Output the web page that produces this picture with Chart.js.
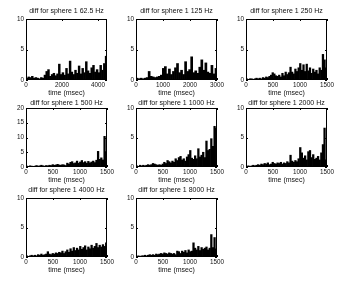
<!DOCTYPE html>
<html>
<head>
<meta charset="utf-8">
<script src="https://cdn.jsdelivr.net/npm/chart.js@4.4.1/dist/chart.umd.min.js"></script>
<style>
  html, body { margin: 0; padding: 0; background: #fff; }
  #wrap { position: relative; width: 337px; height: 281px; overflow: hidden; }
  #wrap canvas { position: absolute; }
</style>
</head>
<body>
<div id="wrap"></div>
<script>
// =====================
// DATA
// =====================
const titles = [
  "diff for sphere 1 62.5 Hz", "diff for sphere 1 125 Hz", "diff for sphere 1 250 Hz",
  "diff for sphere 1 500 Hz", "diff for sphere 1 1000 Hz", "diff for sphere 1 2000 Hz",
  "diff for sphere 1 4000 Hz", "diff for sphere 1 8000 Hz"
];

// bar centres (msec)
const times4500 = [50,150,250,350,450,550,650,750,850,950,1050,1150,1250,1350,1450,1550,1650,1750,1850,1950,
  2050,2150,2250,2350,2450,2550,2650,2750,2850,2950,3050,3150,3250,3350,3450,3550,3650,3750,3850,3950,
  4050,4150,4250,4350,4450];
const times3000 = [37.5,112.5,187.5,262.5,337.5,412.5,487.5,562.5,637.5,712.5,787.5,862.5,937.5,1012.5,
  1087.5,1162.5,1237.5,1312.5,1387.5,1462.5,1537.5,1612.5,1687.5,1762.5,1837.5,1912.5,1987.5,2062.5,
  2137.5,2212.5,2287.5,2362.5,2437.5,2512.5,2587.5,2662.5,2737.5,2812.5,2887.5,2962.5];
const times1500 = [15,45,75,105,135,165,195,225,255,285,315,345,375,405,435,465,495,525,555,585,
  615,645,675,705,735,765,795,825,855,885,915,945,975,1005,1035,1065,1095,1125,1155,1185,
  1215,1245,1275,1305,1335,1365,1395,1425,1455,1485];

const diff62 = [0.3,0.5,0.4,0.6,0.3,0.4,0.3,0.2,0.4,0.3, 0.8,1.4,1.7,0.6,0.9,1.1,0.7,1.0,2.6,0.9,
  1.2,0.8,1.9,1.0,3.1,1.3,0.9,1.6,1.1,2.3, 1.0,1.9,1.2,3.0,1.5,1.1,2.0,2.4,1.3,1.7, 1.2,2.4,1.6,2.7,3.9];
const diff125 = [0.3,0.2,0.3,0.2,0.3,0.4,1.4,0.6,0.5,0.4, 0.5,0.6,0.8,1.9,2.2,1.0,1.8,0.9,1.4,2.0,
  2.7,1.2,1.6,0.9,3.0,1.4,1.7,3.8,1.2,1.5, 1.1,2.1,3.3,1.6,2.8,1.3,1.1,2.4,1.0,1.9];
const diff250 = [0.2,0.1,0.2,0.2,0.1,0.2,0.3,0.2,0.3,0.2, 0.4,0.3,0.5,0.4,0.6,0.8,1.2,1.0,0.7,0.6,
  0.8,0.5,1.1,0.7,1.3,0.9,1.2,2.1,1.3,1.0, 1.8,1.4,2.0,2.7,1.6,2.5,1.4,2.6,1.5,2.0,
  1.1,1.8,1.3,1.6,1.0,2.0,1.6,4.2,3.3,2.0];
const diff500 = [0.3,0.2,0.4,0.3,0.2,0.3,0.5,0.3,0.4,0.6, 0.4,0.3,0.5,0.4,0.6,0.5,0.8,0.6,0.7,0.9,
  0.7,0.6,0.8,0.7,0.5,1.3,1.0,1.6,1.8,1.2, 1.4,2.0,1.3,1.7,2.2,1.5,1.8,1.3,1.9,1.4,
  1.7,2.0,1.5,2.3,5.3,2.6,3.1,2.4,10.4,5.2];
const diff1000 = [0.2,0.1,0.3,0.2,0.3,0.2,0.3,0.4,0.3,0.4, 0.6,0.5,0.4,0.3,0.4,0.3,0.5,0.8,0.6,1.1,
  0.9,0.7,1.0,0.8,1.4,1.1,1.6,1.8,1.2,1.4, 1.0,1.7,2.1,2.8,1.5,1.3,1.9,1.4,3.1,1.7,
  2.0,2.5,1.6,4.4,2.8,3.0,4.8,3.5,6.9,6.6];
const diff2000 = [0.1,0.2,0.1,0.2,0.3,0.2,0.3,0.4,0.3,0.5, 0.4,0.6,0.5,0.7,0.4,0.5,0.8,0.6,0.5,0.7,
  0.6,0.8,0.5,0.7,0.6,0.9,0.7,2.0,1.0,0.8, 1.1,0.9,1.4,3.3,2.4,1.5,1.9,1.2,2.6,2.8,
  1.6,2.1,1.3,1.5,1.8,1.2,2.4,3.8,6.6,1.2];
const diff4000 = [0.2,0.1,0.2,0.3,0.2,0.3,0.2,0.4,0.3,0.5, 0.3,0.4,0.5,0.9,0.5,0.4,0.6,0.5,0.7,0.6,
  0.8,0.7,1.0,0.6,0.9,1.2,0.8,1.4,1.0,1.6, 1.1,1.5,1.2,1.8,1.3,1.6,1.9,1.2,1.7,1.4,
  2.0,1.5,1.8,2.3,1.6,2.0,1.7,2.1,1.8,2.4];
const diff8000 = [0.1,0.2,0.1,0.2,0.2,0.3,0.2,0.3,0.4,0.3, 0.4,0.3,0.5,0.4,0.5,0.6,0.5,0.7,0.6,0.5,
  0.7,0.6,0.5,0.6,0.4,1.0,0.9,0.6,1.0,0.8, 1.1,0.7,1.2,0.9,1.0,2.4,1.5,1.2,1.8,1.1,
  1.6,1.3,1.5,1.7,1.2,1.5,3.8,1.6,3.3,1.4];

const ticks4500 = [0, 2000, 4000];
const ticks3000 = [0, 1000, 2000, 3000];
const ticks1500 = [0, 500, 1000, 1500];
const ticks10 = [0, 5, 10];
const ticks20 = [0, 5, 10, 15, 20];

const panels = [
  { t: times4500, v: diff62,   xMax: 4500, xTicks: ticks4500, yMax: 10, yTicks: ticks10 },
  { t: times3000, v: diff125,  xMax: 3000, xTicks: ticks3000, yMax: 10, yTicks: ticks10 },
  { t: times1500, v: diff250,  xMax: 1500, xTicks: ticks1500, yMax: 10, yTicks: ticks10 },
  { t: times1500, v: diff500,  xMax: 1500, xTicks: ticks1500, yMax: 20, yTicks: ticks20 },
  { t: times1500, v: diff1000, xMax: 1500, xTicks: ticks1500, yMax: 10, yTicks: ticks10 },
  { t: times1500, v: diff2000, xMax: 1500, xTicks: ticks1500, yMax: 10, yTicks: ticks10 },
  { t: times1500, v: diff4000, xMax: 1500, xTicks: ticks1500, yMax: 10, yTicks: ticks10 },
  { t: times1500, v: diff8000, xMax: 1500, xTicks: ticks1500, yMax: 10, yTicks: ticks10 }
];

// =====================
// LAYOUT
// =====================
const colLeft = [26, 136, 246];
const rowTop = [19, 108, 198];
const rowHeight = [61, 59, 59];
const titleGap = [8, 5, 8];
const AXIS_W = 26, PLOT_W = 81, PAD_R = 10, PAD_T = 19, XAXIS_H = 17;
const TICK_FONT = { family: "'Liberation Sans', Arial, sans-serif", size: 6.3, lineHeight: 1 };
const LABEL_FONT = { family: "'Liberation Sans', Arial, sans-serif", size: 7, lineHeight: 1 };
const INK = "#111";

// box round the axes, inward ticks, title over the axes
const framePlugin = {
  id: "frame",
  afterDatasetsDraw(chart, args, opts) {
    const { ctx, chartArea: a, scales: { x, y } } = chart;
    ctx.save();
    ctx.strokeStyle = "#000";
    ctx.lineWidth = 1;
    ctx.strokeRect(a.left + 0.5, a.top + 0.5, a.width - 1, a.height - 1);
    ctx.beginPath();
    x.ticks.forEach(tk => {
      const px = Math.round(x.getPixelForValue(tk.value)) + 0.5;
      ctx.moveTo(px, a.bottom); ctx.lineTo(px, a.bottom - 2);
      ctx.moveTo(px, a.top); ctx.lineTo(px, a.top + 2);
    });
    y.ticks.forEach(tk => {
      const py = Math.round(y.getPixelForValue(tk.value)) + 0.5;
      ctx.moveTo(a.left, py); ctx.lineTo(a.left + 2, py);
      ctx.moveTo(a.right, py); ctx.lineTo(a.right - 2, py);
    });
    ctx.stroke();
    ctx.fillStyle = INK;
    ctx.font = "7px 'Liberation Sans', Arial, sans-serif";
    ctx.textAlign = "center";
    ctx.textBaseline = "middle";
    ctx.fillText(opts.title, (a.left + a.right) / 2, a.top - opts.gap);
    ctx.restore();
  }
};

const wrap = document.getElementById("wrap");

panels.forEach((p, i) => {
  const col = i % 3, row = Math.floor(i / 3);
  const cv = document.createElement("canvas");
  const w = AXIS_W + PLOT_W + PAD_R;
  const h = PAD_T + rowHeight[row] + XAXIS_H;
  cv.width = w; cv.height = h;
  cv.style.width = w + "px"; cv.style.height = h + "px";
  cv.style.left = (colLeft[col] - AXIS_W) + "px";
  cv.style.top = (rowTop[row] - PAD_T) + "px";
  wrap.appendChild(cv);

  new Chart(cv, {
    type: "bar",
    data: {
      datasets: [{
        data: p.t.map((t, k) => ({ x: t, y: p.v[k] })),
        backgroundColor: "#000",
        borderWidth: 0,
        barPercentage: 1,
        categoryPercentage: 1
      }]
    },
    options: {
      responsive: false,
      animation: false,
      layout: { padding: { top: PAD_T, right: PAD_R, left: 0, bottom: 0 } },
      plugins: {
        legend: { display: false },
        tooltip: { enabled: false },
        frame: { title: titles[i], gap: titleGap[row] }
      },
      scales: {
        x: {
          type: "linear", min: 0, max: p.xMax, offset: false,
          grid: { display: false, drawTicks: false }, border: { display: false },
          ticks: { font: TICK_FONT, color: INK, padding: 2, maxRotation: 0, autoSkip: false, callback: v => String(v) },
          afterBuildTicks: s => { s.ticks = p.xTicks.map(v => ({ value: v })); },
          afterFit: s => { s.height = XAXIS_H; },
          title: { display: true, text: "time (msec)", font: LABEL_FONT, color: INK, padding: 0 }
        },
        y: {
          min: 0, max: p.yMax,
          grid: { display: false, drawTicks: false }, border: { display: false },
          ticks: { font: TICK_FONT, color: INK, padding: 2, autoSkip: false, callback: v => String(v) },
          afterBuildTicks: s => { s.ticks = p.yTicks.map(v => ({ value: v })); },
          afterFit: s => { s.width = AXIS_W; }
        }
      }
    },
    plugins: [framePlugin]
  });
});
</script>
</body>
</html>
